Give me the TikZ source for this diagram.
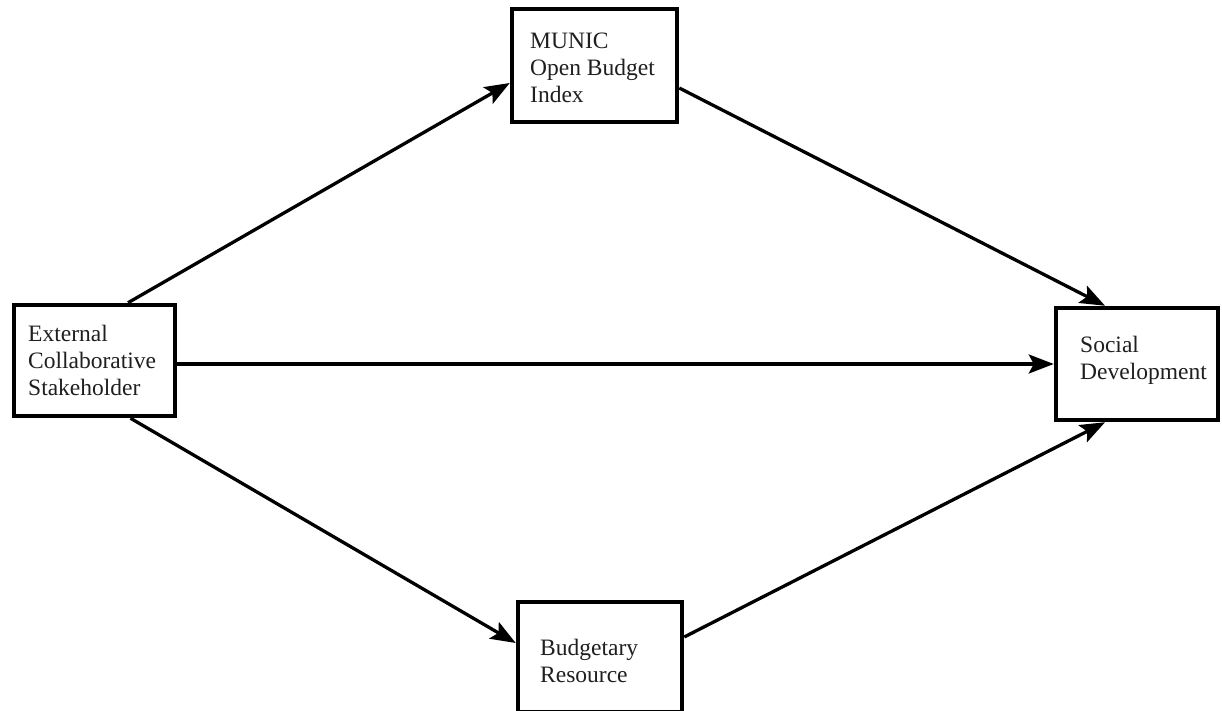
\documentclass[tikz,border=0pt]{standalone}
\usepackage{fontspec}
\setmainfont{Liberation Serif}
\usetikzlibrary{arrows.meta}
\tikzset{
  box/.style={draw=black, line width=4.5pt, fill=white, inner sep=0pt},
  lbl/.style={anchor=west, inner sep=0pt, align=left, text=black!88,
    font=\fontsize{23.5}{27}\selectfont},
  link/.style={line width=3.3pt, -{Stealth[length=25pt, width=19pt, inset=5pt]}}
}
\begin{document}
\begin{tikzpicture}[x=1pt, y=-1pt]
  \useasboundingbox (0,0) rectangle (1222,711);

  % boxes
  \node[box, minimum width=161pt, minimum height=111pt] (ext)   at (94.5,360.5) {};
  \node[box, minimum width=165pt, minimum height=113pt] (munic) at (594.5,65.5) {};
  \node[box, minimum width=162pt, minimum height=112pt] (soc)   at (1137,364) {};
  \node[box, minimum width=164pt, minimum height=110pt] (bud)   at (600,657) {};

  % labels
  \node[lbl] (extT)   at (28,360)  {External\\Collaborative\\Stakeholder};
  \node[lbl] (municT) at (530,68)  {MUNIC\\Open Budget\\Index};
  \node[lbl] (socT)   at (1080,360) {Social\\Development};
  \node[lbl] (budT)   at (540,661) {Budgetary\\Resource};

  % paths
  \draw[link] ([xshift=33.5pt]ext.north) -- ([yshift=-17.5pt]munic.west);
  \draw[link] ([yshift=-22.5pt]munic.east) -- ([xshift=-32pt]soc.north);
  \draw[link] ([yshift=-3.5pt]ext.east) -- (soc.west);
  \draw[link] ([xshift=36pt]ext.south) -- ([yshift=14pt]bud.west);
  \draw[link] ([yshift=20pt]bud.east) -- ([xshift=-32pt]soc.south);
\end{tikzpicture}
\end{document}
